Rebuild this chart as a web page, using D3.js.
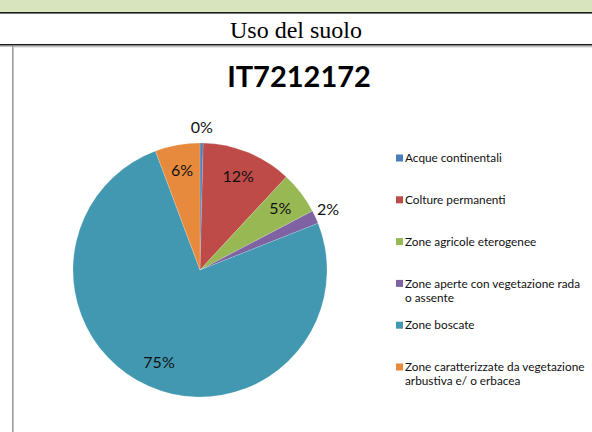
<!DOCTYPE html>
<html>
<head>
<meta charset="utf-8">
<script src="https://cdn.jsdelivr.net/npm/d3@7"></script>
<style>
  html, body { margin: 0; padding: 0; background: #fff; }
  svg { display: block; }
</style>
</head>
<body>
<div id="chart"></div>
<script>
const headerTitle = "Uso del suolo";
const chartTitle = "IT7212172";
const categories = [
  "Acque continentali",
  "Colture permanenti",
  "Zone agricole eterogenee",
  "Zone aperte con vegetazione rada o assente",
  "Zone boscate",
  "Zone caratterizzate da vegetazione arbustiva e/ o erbacea"
];
const legendLines = [
  ["Acque continentali"],
  ["Colture permanenti"],
  ["Zone agricole eterogenee"],
  ["Zone aperte con vegetazione rada", "o assente"],
  ["Zone boscate"],
  ["Zone caratterizzate da vegetazione", "arbustiva e/ o erbacea"]
];
const values = [0.4, 11.5, 5.4, 1.7, 75.3, 5.7];
const valueLabels = ["0%", "12%", "5%", "2%", "75%", "6%"];
const colors = ["#4A7EBB", "#BE4B48", "#97B853", "#7E62A1", "#4298B1", "#E78A3D"];

const W = 592, H = 432;
const svg = d3.select("#chart").append("svg").attr("width", W).attr("height", H);

// Table header band and row
svg.append("rect").attr("x", 0).attr("y", 0).attr("width", W).attr("height", 12).attr("fill", "#D7E4BD");
svg.append("rect").attr("x", 0).attr("y", 12).attr("width", W).attr("height", 1.6).attr("fill", "#1a1a1a");
svg.append("text").attr("x", W / 2).attr("y", 37.5).attr("text-anchor", "middle")
  .attr("font-family", "'Liberation Serif', 'DejaVu Serif', serif").attr("font-size", 24)
  .attr("fill", "#000").text(headerTitle);
svg.append("rect").attr("x", 0).attr("y", 44).attr("width", W).attr("height", 1.6).attr("fill", "#1a1a1a");
svg.append("rect").attr("x", 0).attr("y", 45.6).attr("width", W).attr("height", 1.2).attr("fill", "#b0b0b0");
// Left vertical frame line
svg.append("rect").attr("x", 12).attr("y", 46).attr("width", 1.6).attr("height", H - 46).attr("fill", "#9a9a9a");
svg.append("rect").attr("x", 13.6).attr("y", 47).attr("width", W - 13.6).attr("height", 0.8).attr("fill", "#e4e4e4");

// Chart title
svg.append("text").attr("x", 299).attr("y", 87).attr("text-anchor", "middle")
  .attr("font-family", "Lato, 'Open Sans', sans-serif").attr("font-weight", "bold")
  .attr("font-size", 29).attr("fill", "#000").text(chartTitle);

// Pie
const cx = 200, cy = 270, R = 127;
const pie = d3.pie().sort(null).value(d => d)(values);
const arc = d3.arc().innerRadius(0).outerRadius(R);
const g = svg.append("g").attr("transform", `translate(${cx},${cy})`);
g.selectAll("path.slice").data(pie).join("path")
  .attr("class", "slice")
  .attr("d", arc)
  .attr("fill", (d, i) => colors[i])
  .attr("stroke", "rgba(255,255,255,0.35)")
  .attr("stroke-width", 0.5);

const inArc = d3.arc().innerRadius(101).outerRadius(101);
const outArc = d3.arc().innerRadius(141).outerRadius(141);
g.selectAll("text.lbl").data(pie).join("text")
  .attr("class", "lbl")
  .attr("transform", d => {
    const small = (d.endAngle - d.startAngle) < 0.2;
    const p = (small ? outArc : inArc).centroid(d);
    return `translate(${p[0]},${p[1] - (small ? 2 : 0)})`;
  })
  .attr("dy", "0.36em")
  .attr("text-anchor", "middle")
  .attr("font-family", "Lato, 'Open Sans', sans-serif")
  .attr("font-size", 16)
  .attr("fill", "#111")
  .text((d, i) => valueLabels[i]);

// Legend
const ly = d3.scaleLinear().domain([0, categories.length - 1]).range([158, 367]);
const leg = svg.append("g");
categories.forEach((c, i) => {
  const y = ly(i);
  leg.append("rect").attr("x", 396).attr("y", y - 3.5).attr("width", 7).attr("height", 7).attr("fill", colors[i]);
  const t = leg.append("text").attr("x", 405).attr("y", y)
    .attr("font-family", "Lato, 'Open Sans', sans-serif").attr("font-size", 11.8).attr("fill", "#111");
  legendLines[i].forEach((line, j) => {
    t.append("tspan").attr("x", 405).attr("y", y + j * 14).attr("dy", "0.35em").text(line);
  });
});
</script>
</body>
</html>
